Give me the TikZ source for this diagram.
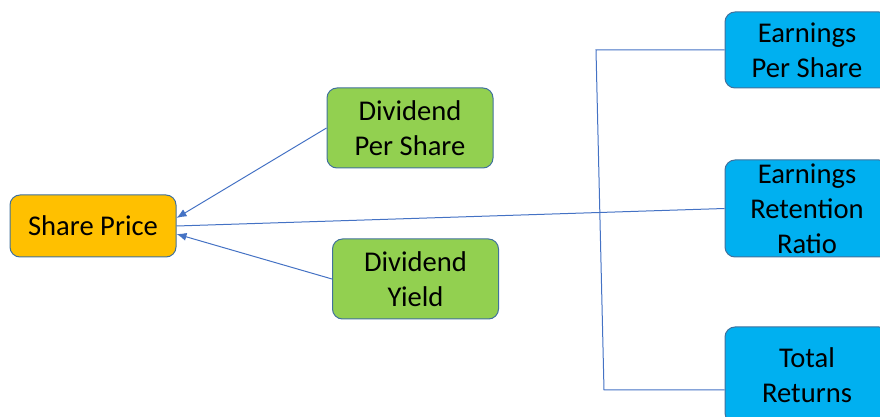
\documentclass[tikz,border=0pt]{standalone}
\usepackage{fontspec}
\setmainfont{Carlito}
\usetikzlibrary{arrows.meta}

\definecolor{boxline}{HTML}{41719C}
\definecolor{linkblue}{HTML}{4472C4}
\definecolor{priceorange}{HTML}{FFC000}
\definecolor{divgreen}{HTML}{92D050}
\definecolor{earncyan}{HTML}{00B0F0}

\begin{document}
\begin{tikzpicture}[
    x=0.5pt, y=-0.5pt,
    every node/.style={rounded corners=5pt, draw=boxline, line width=0.5pt,
        align=center, inner sep=0pt, font=\fontsize{14.3}{17.5}\selectfont},
    pricebox/.style={fill=priceorange, minimum width=83pt, minimum height=31pt},
    divbox/.style={fill=divgreen, minimum width=83pt, minimum height=40pt},
    earnbox/.style={fill=earncyan, minimum width=82pt},
    link/.style={draw=linkblue, line width=0.5pt}
]

\useasboundingbox (0,0) rectangle (880,417);
\clip (0,0) rectangle (880,417);

% ================= Share price =================

\node[pricebox] (price) at (93,226) {Share Price};

% ================= Dividend =================

\node[divbox] (dps) at (410,128)   {Dividend\\Per Share};
\node[divbox] (dy)  at (415.5,279) {Dividend\\Yield};

% ================= Earnings =================

\node[earnbox, minimum height=38pt]   (eps) at (807,50)    {Earnings\\Per Share};
\node[earnbox, minimum height=48.5pt] (err) at (807,208.5) {Earnings\\Retention\\Ratio};
\node[earnbox, minimum height=48pt]   (tr)  at (807,375)   {Total\\Returns};

% ================= Connectors =================

\draw[link, -{Latex[length=5pt, width=4pt]}] (dps.west) -- ([yshift=4pt]price.east);
\draw[link, -{Latex[length=5pt, width=4pt]}] (dy.west)  -- ([yshift=-4pt]price.east);
\draw[link] (err.west) -- (price.east);

\coordinate (bt) at (596,50);
\coordinate (bb) at (604,390);

\draw[link] (eps.west) -- (bt) -- (bb) -- (tr.west |- bb);

\end{tikzpicture}
\end{document}
